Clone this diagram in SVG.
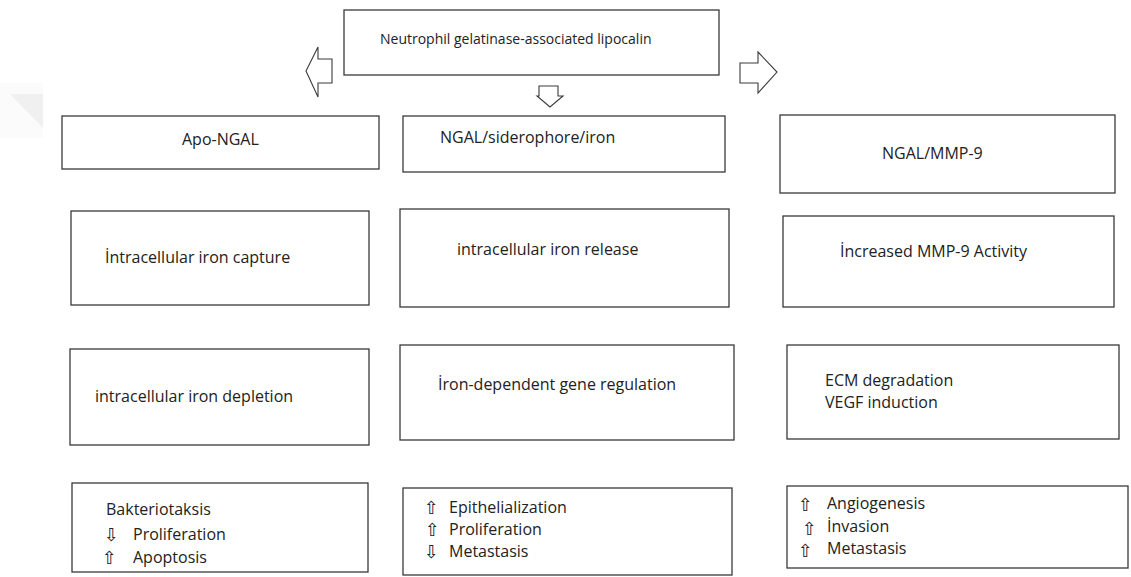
<svg xmlns="http://www.w3.org/2000/svg" width="1131" height="577" viewBox="0 0 1131 577">
<style>
.box{fill:#fff;stroke:#3a3a3a;stroke-width:1.3}
.arr{fill:#fff;stroke:#3a3a3a;stroke-width:1.1;stroke-linejoin:miter}
.t{font-family:"Open Sans","Noto Sans",sans-serif;font-size:16px;fill:#222}
.s{font-family:"DejaVu Sans",sans-serif;font-size:18px;fill:#222}
</style>
<rect width="1131" height="577" fill="#fff"/>
<g id="watermark">
<rect x="0" y="83" width="43" height="55" fill="#fbfbfb"/>
<polygon points="10,94 43,94 43,128" fill="#f0f0f0"/>
</g>
<g id="connectors">
<polygon class="arr" points="306,71 318,47 318,59 332,59 332,83 318,83 318,97"/>
<polygon class="arr" points="539,86 558,86 558,96 563,96 550,107 537,96 539,96"/>
<polygon class="arr" points="740,63 758,63 758,52 777,72 758,93 758,83 740,83"/>
</g>
<g id="ngal">
<rect class="box" x="344" y="10" width="375" height="65"/>
<text class="t" x="380" y="44" style="font-size:14px">Neutrophil gelatinase-associated lipocalin</text>
</g>
<g id="apo-ngal">
<rect class="box" x="62" y="116" width="317" height="53"/>
<text class="t" x="182" y="145">Apo-NGAL</text>
</g>
<g id="ngal-sid">
<rect class="box" x="403" y="116" width="322" height="56"/>
<text class="t" x="440" y="143">NGAL/siderophore/iron</text>
</g>
<g id="ngal-mmp9">
<rect class="box" x="780" y="115" width="335" height="78"/>
<text class="t" x="882" y="159">NGAL/MMP-9</text>
</g>
<g id="capture">
<rect class="box" x="71" y="211" width="298" height="94"/>
<text class="t" x="105" y="263">İntracellular iron capture</text>
</g>
<g id="release">
<rect class="box" x="400" y="209" width="329" height="98"/>
<text class="t" x="457" y="255">intracellular iron release</text>
</g>
<g id="mmp9-act">
<rect class="box" x="783" y="216" width="331" height="91"/>
<text class="t" x="840" y="257">İncreased MMP-9 Activity</text>
</g>
<g id="depletion">
<rect class="box" x="70" y="349" width="299" height="96"/>
<text class="t" x="95" y="402">intracellular iron depletion</text>
</g>
<g id="gene-reg">
<rect class="box" x="400" y="345" width="334" height="95"/>
<text class="t" x="438" y="390">İron-dependent gene regulation</text>
</g>
<g id="ecm">
<rect class="box" x="787" y="345" width="332" height="94"/>
<text class="t" x="825" y="386">ECM degradation</text>
<text class="t" x="825" y="408">VEGF induction</text>
</g>
<g id="out-left">
<rect class="box" x="72" y="483" width="296" height="89"/>
<text class="t" x="106" y="515">Bakteriotaksis</text>
<text class="s" x="104" y="541">⇩</text>
<text class="t" x="133" y="540">Proliferation</text>
<text class="s" x="102" y="564">⇧</text>
<text class="t" x="133" y="563">Apoptosis</text>
</g>
<g id="out-mid">
<rect class="box" x="403" y="488" width="329" height="87"/>
<text class="s" x="424" y="514">⇧</text>
<text class="t" x="449" y="513">Epithelialization</text>
<text class="s" x="425" y="536">⇧</text>
<text class="t" x="449" y="535">Proliferation</text>
<text class="s" x="424" y="558">⇩</text>
<text class="t" x="449" y="557">Metastasis</text>
</g>
<g id="out-right">
<rect class="box" x="787" y="486" width="341" height="82"/>
<text class="s" x="798" y="511">⇧</text>
<text class="t" x="827" y="509">Angiogenesis</text>
<text class="s" x="802" y="535">⇧</text>
<text class="t" x="827" y="532">İnvasion</text>
<text class="s" x="798" y="557">⇧</text>
<text class="t" x="827" y="554">Metastasis</text>
</g>
</svg>
